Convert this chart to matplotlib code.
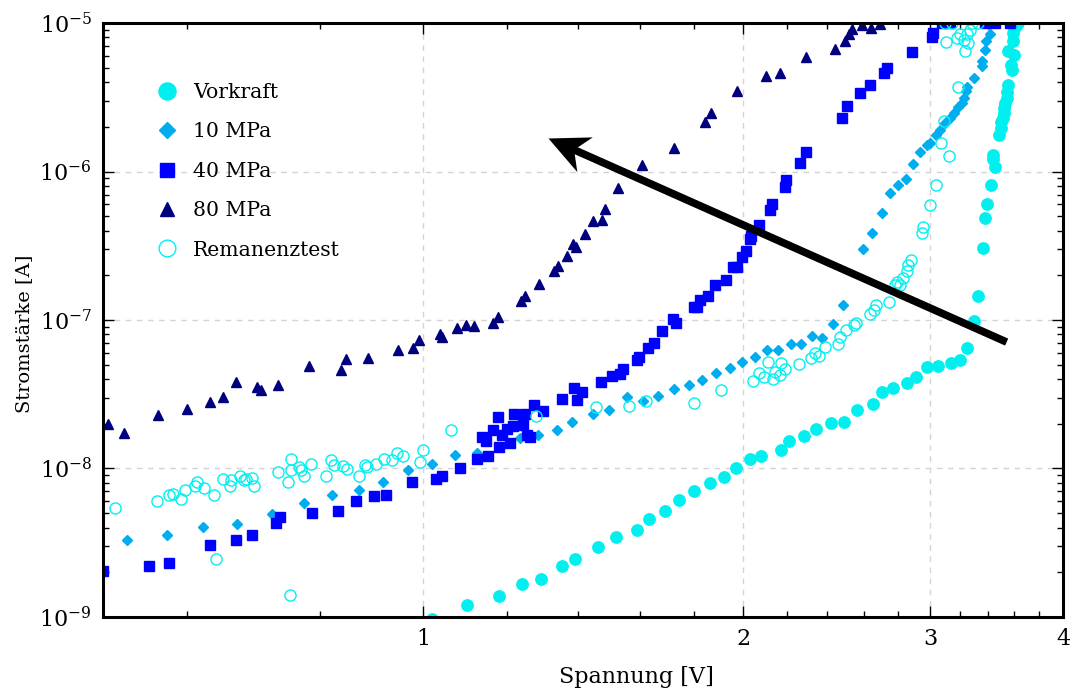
import numpy as np
import matplotlib
matplotlib.use('Agg')
import matplotlib.pyplot as plt
from matplotlib.ticker import NullFormatter
from matplotlib.path import Path
from matplotlib.markers import MarkerStyle
from matplotlib.transforms import Affine2D

plt.rcParams['font.family'] = 'DejaVu Serif'
plt.rcParams['mathtext.fontset'] = 'dejavuserif'

# Strom-Spannungs-Kennlinien, Spannung in V, Strom in nA
vork_v = [1.02, 1.10, 1.18, 1.24, 1.29, 1.35, 1.39, 1.46, 1.52, 1.59, 1.63, 1.69, 1.74, 1.80,
          1.86, 1.92, 1.97, 2.03, 2.08, 2.17, 2.21, 2.28, 2.34, 2.42, 2.49, 2.56, 2.65, 2.70,
          2.77, 2.85, 2.91, 2.98, 3.05, 3.14, 3.20, 3.25, 3.30, 3.33, 3.36, 3.38, 3.39, 3.42,
          3.45, 3.44, 3.44, 3.48, 3.50, 3.50, 3.51, 3.52, 3.52, 3.53, 3.54, 3.54, 3.55, 3.58,
          3.57, 3.60, 3.55, 3.59, 3.59, 3.61, 3.63]
vork_i = [0.97, 1.20, 1.39, 1.68, 1.81, 2.22, 2.47, 2.95, 3.47, 3.85, 4.55, 5.20, 6.11, 7.09,
          8.03, 8.74, 10.0, 11.6, 12.2, 13.4, 15.4, 16.5, 18.5, 20.2, 20.7, 24.8, 27.3, 32.9,
          35.0, 37.7, 41.0, 48.5, 49.2, 51.3, 53.6, 64.3, 98.0, 145, 305, 490, 601, 807,
          1070, 1210, 1300, 1750, 1960, 2150, 2290, 2480, 2680, 2890, 3130, 3430, 3820, 4850,
          5240, 6120, 6450, 7530, 8560, 9500, 10000]

mpa10_v = [0.527, 0.574, 0.621, 0.668, 0.721, 0.772, 0.821, 0.870, 0.917, 0.969, 1.019, 1.072,
           1.123, 1.234, 1.284, 1.336, 1.381, 1.444, 1.497, 1.554, 1.611, 1.665, 1.722, 1.778,
           1.830, 1.886, 1.943, 1.997, 2.051, 2.105, 2.156, 2.218, 2.268, 2.321, 2.375, 2.429,
           2.486, 2.595, 2.646, 2.704, 2.750, 2.799, 2.846, 2.891, 2.935, 2.976, 2.999, 3.038,
           3.064, 3.098, 3.132, 3.161, 3.188, 3.212, 3.228, 3.244, 3.247, 3.295, 3.355, 3.359,
           3.379, 3.388, 3.413, 3.43]
mpa10_i = [3.29, 3.54, 4.02, 4.23, 4.92, 5.88, 6.61, 7.14, 8.15, 9.74, 10.8, 12.3,
           12.8, 16.0, 16.9, 18.2, 20.7, 23.3, 24.8, 30.2, 28.6, 30.9, 34.2, 36.3,
           39.3, 43.8, 47.7, 52.2, 56.1, 62.5, 63.1, 69.3, 69.3, 78.4, 75.7, 94.4,
           127, 299, 384, 525, 714, 805, 888, 1120, 1350, 1500, 1560, 1770,
           1910, 2120, 2290, 2480, 2710, 2890, 3130, 3510, 3690, 4260, 5170, 5550,
           6550, 7620, 8430, 10000]

mpa40_v = [0.500, 0.552, 0.577, 0.631, 0.667, 0.691, 0.727, 0.733, 0.787, 0.832, 0.864, 0.899,
           0.922, 0.977, 1.028, 1.043, 1.083, 1.125, 1.151, 1.136, 1.146, 1.163, 1.176, 1.178,
           1.186, 1.199, 1.207, 1.216, 1.218, 1.241, 1.247, 1.252, 1.261, 1.272, 1.298, 1.352,
           1.387, 1.395, 1.412, 1.471, 1.506, 1.532, 1.543, 1.589, 1.598, 1.629, 1.650, 1.678,
           1.718, 1.730, 1.799, 1.809, 1.822, 1.855, 1.883, 1.928, 1.959, 1.976, 1.995, 2.013,
           2.031, 2.035, 2.071, 2.120, 2.130, 2.188, 2.195, 2.262, 2.291, 2.480, 2.504, 2.575,
           2.633, 2.716, 2.729, 2.884, 3.012, 3.018, 3.077, 3.132, 3.379, 3.452, 3.566]
mpa40_i = [2.05, 2.21, 2.30, 3.05, 3.29, 3.56, 4.32, 4.69, 4.98, 5.15, 6.06, 6.53,
           6.65, 8.15, 8.47, 8.90, 10.0, 11.5, 12.2, 16.2, 15.3, 18.1, 22.1, 13.9,
           16.7, 18.5, 14.8, 19.2, 23.4, 19.7, 23.1, 16.8, 16.3, 26.8, 24.4, 29.3,
           34.7, 28.9, 32.6, 38.4, 42.0, 43.3, 46.6, 53.8, 56.1, 64.5, 70.3, 83.9,
           101, 95.0, 122, 123, 136, 144, 172, 186, 229, 229, 267, 293,
           349, 368, 436, 548, 604, 783, 877, 1140, 1350, 2280, 2740, 3370,
           3850, 4620, 4940, 6350, 8030, 8500, 10000, 10000, 10000, 10000, 10000]

mpa80_v = [0.505, 0.523, 0.563, 0.600, 0.630, 0.649, 0.667, 0.698, 0.704, 0.730, 0.782, 0.837,
           0.846, 0.887, 0.947, 0.979, 0.991, 1.038, 1.041, 1.076, 1.098, 1.117, 1.163, 1.176,
           1.237, 1.248, 1.286, 1.328, 1.339, 1.367, 1.385, 1.393, 1.420, 1.446, 1.472, 1.483,
           1.526, 1.608, 1.722, 1.842, 1.864, 1.976, 2.101, 2.167, 2.290, 2.441, 2.495, 2.515,
           2.533, 2.586, 2.639, 2.692]
mpa80_i = [19.9, 17.3, 22.9, 25.0, 28.2, 30.2, 38.4, 35.2, 33.8, 36.3, 49.2, 46.1,
           54.4, 55.5, 62.8, 64.5, 73.3, 79.9, 76.5, 89.0, 92.5, 91.1, 95.9, 105,
           134, 145, 174, 215, 232, 270, 323, 309, 380, 462, 471, 559,
           780, 1100, 1430, 2170, 2490, 3500, 4420, 4580, 5880, 6680, 7510, 8390,
           9180, 9690, 9230, 9850]

rem_v = [0.513, 0.562, 0.577, 0.582, 0.592, 0.597, 0.610, 0.613, 0.622, 0.636, 0.639, 0.649,
         0.658, 0.660, 0.673, 0.678, 0.681, 0.691, 0.694, 0.730, 0.747, 0.750, 0.751, 0.751,
         0.764, 0.768, 0.772, 0.785, 0.810, 0.820, 0.824, 0.841, 0.848, 0.871, 0.881, 0.885,
         0.904, 0.918, 0.935, 0.946, 0.958, 0.994, 1.001, 1.063, 1.277, 1.454, 1.561, 1.621,
         1.799, 1.905, 2.045, 2.071, 2.094, 2.112, 2.133, 2.143, 2.167, 2.172, 2.190, 2.258,
         2.317, 2.338, 2.358, 2.388, 2.458, 2.467, 2.498, 2.544, 2.553, 2.632, 2.654, 2.668,
         2.745, 2.780, 2.794, 2.810, 2.830, 2.851, 2.859, 2.877, 2.945, 2.955, 2.999, 3.037,
         3.126, 3.069, 3.092, 3.183, 3.105, 3.178, 3.200, 3.225, 3.235, 3.252, 3.259, 3.271,
         3.097, 3.147, 3.285, 3.330]
rem_i = [5.40, 6.01, 6.60, 6.77, 6.20, 7.17, 7.62, 8.15, 7.39, 6.66, 2.45, 8.54,
         7.62, 8.41, 8.94, 8.37, 8.46, 8.59, 7.62, 9.52, 8.15, 1.40, 11.5, 9.82,
         10.3, 9.77, 8.86, 10.7, 8.86, 11.4, 10.6, 10.4, 9.95, 8.93, 10.6, 10.2,
         10.8, 11.6, 11.4, 12.7, 12.1, 11.1, 13.3, 18.3, 22.5, 25.8, 26.4, 28.6,
         27.7, 33.8, 39.0, 43.8, 41.1, 51.9, 40.1, 44.9, 42.6, 51.1, 46.8, 50.3,
         55.2, 59.7, 57.5, 66.1, 69.3, 77.2, 85.7, 92.5, 95.0, 110, 116, 126,
         132, 172, 181, 172, 191, 214, 235, 255, 384, 420, 595, 811,
         1270, 1550, 2200, 3700, 7410, 7900, 8370, 7710, 6510, 8430, 7330, 8970,
         10000, 10000, 10000, 10000]

# Pfeil von (Spannung, Strom) nach (Spannung, Strom)
arrow_tail = (3.54, 7.1e-8)
arrow_tip = (1.31, 1.68e-6)

nA = 1e-9

fig = plt.figure(figsize=(10.74, 6.93), dpi=100)
ax = fig.add_axes([0.0959, 0.1097, 0.8939, 0.8571])

ax.plot(vork_v, np.array(vork_i) * nA, 'o', ls='none', ms=8.2, color='#00F0F0', label='Vorkraft')
ax.plot(mpa10_v, np.array(mpa10_i) * nA, 'D', ls='none', ms=5.3, color='#00AEEF', label='10 MPa')
ax.plot(mpa40_v, np.array(mpa40_i) * nA, 's', ls='none', ms=7, color='#0000FF', label='40 MPa')
ax.plot(mpa80_v, np.array(mpa80_i) * nA, '^', ls='none', ms=7, color='#00007F', label='80 MPa')
ax.plot(rem_v, np.array(rem_i) * nA, 'o', ls='none', ms=8, mfc='none', mec='#00F0F0',
        mew=1.0, label='Remanenztest')

ax.set_xscale('log')
ax.set_yscale('log')
ax.set_xlim(0.5, 4)
ax.set_ylim(1e-9, 1e-5)

ax.set_xticks([1, 2, 3, 4], labels=['1', '2', '3', '4'])
minor_x = [t for t in np.arange(0.6, 3.9, 0.2) if abs(t - round(t)) > 1e-6]
ax.set_xticks(minor_x, minor=True)
ax.xaxis.set_minor_formatter(NullFormatter())

ax.tick_params(which='both', direction='in', top=True, right=True, width=1.0,
               labelsize=16, pad=8)
ax.tick_params(which='major', length=8)
ax.tick_params(which='minor', length=4.5)

ax.grid(True, which='major', ls=(0, (4, 4)), color='#d4d4d4', lw=1)
for sp in ax.spines.values():
    sp.set_linewidth(2.2)

ax.set_xlabel('Spannung [V]', fontsize=16)
ax.xaxis.set_label_coords(0.556, -0.082)
ax.set_ylabel('Stromstärke [A]', fontsize=14)
ax.yaxis.set_label_coords(-0.073, 0.476)

# Pfeil: Schaft als Linie, Spitze als eingekerbter Pfeilkopf
p0 = ax.transData.transform(arrow_tail)
p1 = ax.transData.transform(arrow_tip)
direction = (p1 - p0) / np.hypot(*(p1 - p0))
ang = np.degrees(np.arctan2(direction[1], direction[0]))
shaft_end = ax.transData.inverted().transform(p1 - 26 * direction)
ax.plot([arrow_tail[0], shaft_end[0]], [arrow_tail[1], shaft_end[1]], color='black',
        lw=5.5, solid_capstyle='butt')
head = Path([(0, 0), (-40, 19), (-28, 0), (-40, -19), (0, 0)],
            [Path.MOVETO, Path.LINETO, Path.LINETO, Path.LINETO, Path.CLOSEPOLY])
ax.plot([arrow_tip[0]], [arrow_tip[1]], ls='none', color='black', mew=0, ms=57.6,
        marker=MarkerStyle(head, transform=Affine2D().rotate_deg(ang)))

ax.legend(loc='upper left', bbox_to_anchor=(0.035, 0.93), frameon=False, fontsize=14.7,
          markerscale=1.5, handletextpad=0.65, labelspacing=1.0, handlelength=1.2)

fig.savefig('out.png', dpi=100)
